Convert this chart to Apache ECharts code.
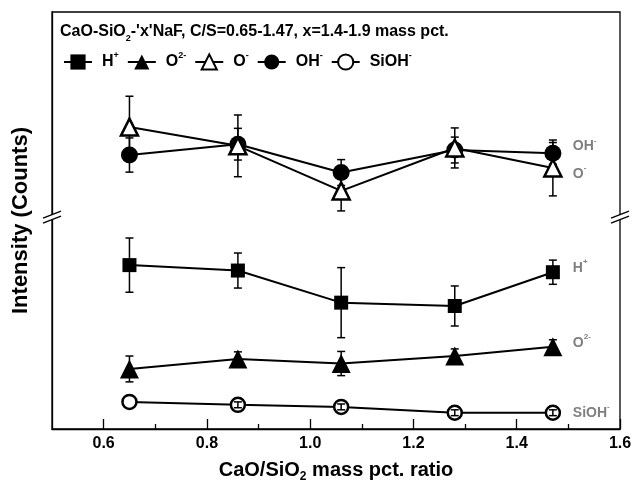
<!DOCTYPE html>
<html lang="en">
<head>
  <meta charset="UTF-8">
  <title>Intensity vs CaO/SiO2</title>
  <script src="https://cdn.jsdelivr.net/npm/echarts@6/dist/echarts.min.js"></script>
  <style>
    html, body { margin: 0; padding: 0; background: #fff; }
    #chart { width: 633px; height: 488px; }
  </style>
</head>
<body>
<div id="chart"></div>
<script>
  // CaO/SiO2 ratios of the five slags
  const ratios = [0.65, 0.86, 1.06, 1.28, 1.47];

  // intensities (arbitrary, y axis has a break and no tick labels)
  const hPlus = [39.3, 38.0, 30.3, 29.5, 37.6];
  const hPlusErr = [6.5, 4.2, 8.4, 4.8, 2.9];
  const o2Minus = [14.4, 16.8, 15.7, 17.5, 19.7];
  const o2MinusErr = [3.1, 1.7, 2.9, 1.7, 1.7];
  const oMinus = [72.4, 67.9, 57.1, 67.4, 62.6];
  const oMinusErr = [7.4, 7.4, 4.8, 4.8, 6.7];
  const ohMinus = [65.7, 68.3, 61.5, 66.9, 66.1];
  const ohMinusErr = [4.1, 3.8, 3.1, 3.1, 2.6];
  const siohMinus = [6.5, 5.8, 5.3, 3.9, 3.9];
  const siohMinusErr = [0, 0.7, 0.7, 0.7, 0.7];

  const majorTicks = [0.6, 0.8, 1.0, 1.2, 1.4, 1.6];
  const minorTicks = [0.7, 0.9, 1.1, 1.3, 1.5];
  const breakAt = 50.8;

  const FONT = 'Liberation Sans, Arial, sans-serif';
  const richSup = {
    sup: { fontSize: 9, fontWeight: 'bold', verticalAlign: 'top', lineHeight: 22, fontFamily: FONT },
    sub: { fontSize: 9, fontWeight: 'bold', verticalAlign: 'bottom', lineHeight: 22, fontFamily: FONT }
  };
  const labelText = {
    'H+': 'H{sup|+}',
    'O2-': 'O{sup|2-}',
    'O-': 'O{sup|-}',
    'OH-': 'OH{sup|-}',
    'SiOH-': 'SiOH{sup|-}'
  };

  const chart = echarts.init(document.getElementById('chart'));

  function pts(vals) {
    return ratios.map((x, i) => [x, vals[i]]);
  }

  function lineSeries(name, vals, symbol, size, filled, dy) {
    return {
      name: name,
      type: 'line',
      data: pts(vals),
      symbol: symbol,
      symbolSize: size,
      z: 3,
      lineStyle: { color: '#000', width: 2 },
      itemStyle: {
        color: filled ? '#000' : '#fff',
        borderColor: '#000',
        borderWidth: filled ? 0 : 2.5
      },
      endLabel: {
        show: true,
        distance: 20,
        offset: [0, dy],
        formatter: () => labelText[name],
        color: '#7f7f7f',
        fontSize: 14,
        fontWeight: 'bold',
        fontFamily: FONT,
        rich: {
          sup: { fontSize: 8, fontWeight: 'bold', verticalAlign: 'top', lineHeight: 20, color: '#7f7f7f' }
        }
      },
      animation: false
    };
  }

  function errSeries(vals, errs, z) {
    return {
      type: 'custom',
      data: ratios.map((x, i) => [x, vals[i], errs[i]]),
      z: z,
      silent: true,
      animation: false,
      renderItem: function (params, api) {
        const x = api.value(0), y = api.value(1), e = api.value(2);
        if (!e) return;
        const lo = api.coord([x, y - e]);
        const hi = api.coord([x, y + e]);
        const cw = 4;
        const st = { stroke: '#000', lineWidth: 1.5 };
        return {
          type: 'group',
          children: [
            { type: 'line', shape: { x1: lo[0], y1: lo[1], x2: hi[0], y2: hi[1] }, style: st },
            { type: 'line', shape: { x1: lo[0] - cw, y1: lo[1], x2: lo[0] + cw, y2: lo[1] }, style: st },
            { type: 'line', shape: { x1: hi[0] - cw, y1: hi[1], x2: hi[0] + cw, y2: hi[1] }, style: st }
          ]
        };
      }
    };
  }

  const option = {
    animation: false,
    title: {
      text: "CaO-SiO{sub|2}-'x'NaF, C/S=0.65-1.47, x=1.4-1.9 mass pct.",
      left: 60,
      top: 21,
      padding: 0,
      textStyle: {
        fontSize: 16,
        fontWeight: 'bold',
        color: '#000',
        fontFamily: FONT,
        lineHeight: 22,
        rich: richSup
      }
    },
    legend: {
      data: ['H+', 'O2-', 'O-', 'OH-', 'SiOH-'],
      left: 63,
      top: 51,
      padding: 0,
      itemWidth: 28,
      itemHeight: 19,
      itemGap: 8,
      formatter: name => labelText[name],
      textStyle: {
        fontSize: 16,
        fontWeight: 'bold',
        color: '#000',
        fontFamily: FONT,
        lineHeight: 22,
        padding: [0, 0, 0, 5],
        rich: richSup
      }
    },
    grid: {
      left: 52,
      right: 13,
      top: 12,
      bottom: 59,
      outerBoundsMode: 'none',
      show: true,
      borderColor: '#000',
      borderWidth: 1.3,
      backgroundColor: 'transparent'
    },
    xAxis: [
      {
        type: 'value',
        min: 0.5,
        max: 1.6,
        interval: 0.1,
        name: 'CaO/SiO{sub|2} mass pct. ratio',
        nameLocation: 'middle',
        nameGap: 28,
        nameTextStyle: {
          fontSize: 20,
          fontWeight: 'bold',
          color: '#000',
          fontFamily: FONT,
          lineHeight: 26,
          rich: {
            sub: { fontSize: 12, fontWeight: 'bold', verticalAlign: 'bottom', lineHeight: 26 }
          }
        },
        axisLine: { show: true, lineStyle: { color: '#000', width: 1.3 } },
        axisTick: { show: true, inside: true, length: 10, customValues: majorTicks, lineStyle: { color: '#000', width: 1.3 } },
        axisLabel: {
          show: true,
          customValues: majorTicks,
          formatter: v => v.toFixed(1),
          fontSize: 16,
          fontWeight: 'bold',
          color: '#000',
          fontFamily: FONT,
          margin: 7
        },
        splitLine: { show: false }
      },
      {
        type: 'value',
        min: 0.5,
        max: 1.6,
        interval: 0.1,
        position: 'bottom',
        axisLine: { show: false },
        axisTick: { show: true, inside: true, length: 5, customValues: minorTicks, lineStyle: { color: '#000', width: 1.3 } },
        axisLabel: { show: false },
        splitLine: { show: false }
      }
    ],
    yAxis: {
      type: 'value',
      min: 0,
      max: 100,
      name: 'Intensity (Counts)',
      nameLocation: 'middle',
      nameGap: 20,
      nameTextStyle: {
        fontSize: 22,
        fontWeight: 'bold',
        color: '#000',
        fontFamily: FONT
      },
      axisLine: { show: true, lineStyle: { color: '#000', width: 1.3 } },
      axisTick: { show: false },
      axisLabel: { show: false },
      splitLine: { show: false }
    },
    series: [
      errSeries(hPlus, hPlusErr, 2),
      errSeries(o2Minus, o2MinusErr, 2),
      errSeries(oMinus, oMinusErr, 2),
      errSeries(ohMinus, ohMinusErr, 2),
      errSeries(siohMinus, siohMinusErr, 5),
      lineSeries('H+', hPlus, 'rect', 14, true, -4),
      lineSeries('O2-', o2Minus, 'triangle', 19, true, -4),
      lineSeries('OH-', ohMinus, 'circle', 17, true, -7),
      lineSeries('O-', oMinus, 'triangle', 17, false, 6),
      lineSeries('SiOH-', siohMinus, 'circle', 14, false, 0)
    ]
  };

  chart.setOption(option);

  // axis break marks on the left and right frame
  const yb = chart.convertToPixel({ yAxisIndex: 0 }, breakAt);
  const xl = chart.convertToPixel({ xAxisIndex: 0 }, 0.5);
  const xr = chart.convertToPixel({ xAxisIndex: 0 }, 1.6);
  function breakMark(x) {
    const st = { stroke: '#000', lineWidth: 1.3 };
    return [
      { type: 'polygon', shape: { points: [[x - 9, yb + 1], [x + 9, yb - 6], [x + 9, yb - 1], [x - 9, yb + 6]] }, style: { fill: '#fff' }, z: 100 },
      { type: 'line', shape: { x1: x - 9, y1: yb + 1, x2: x + 9, y2: yb - 6 }, style: st, z: 101 },
      { type: 'line', shape: { x1: x - 9, y1: yb + 6, x2: x + 9, y2: yb - 1 }, style: st, z: 101 }
    ];
  }
  chart.setOption({ graphic: breakMark(xl).concat(breakMark(xr)) });
</script>
</body>
</html>
